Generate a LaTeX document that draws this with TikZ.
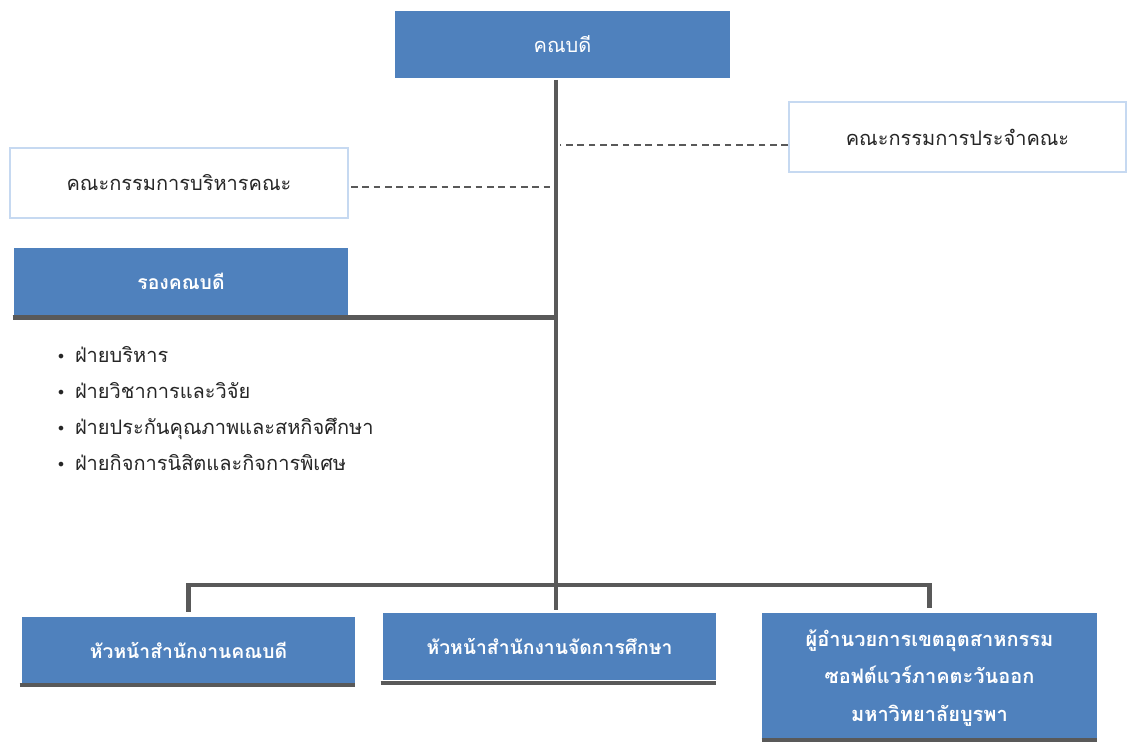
\documentclass[tikz,border=0pt]{standalone}
\usepackage{fontspec}
\usetikzlibrary{calc}
\newfontfamily\thai[Script=Thai]{Loma}
\newfontfamily\dejavu{DejaVu Sans}
\definecolor{boxblue}{HTML}{4F81BD}
\definecolor{linegray}{HTML}{595959}
\definecolor{lightedge}{HTML}{C6D9F1}
\definecolor{txt}{HTML}{262626}
\begin{document}
\begin{tikzpicture}[x=0.75pt,y=-0.75pt,
  bluebox/.style={rectangle, fill=boxblue, draw=none, inner sep=0pt, text=white, align=center, font=\thai\fontsize{15}{27}\selectfont},
  boldbox/.style={bluebox, font=\thai\bfseries\fontsize{14.5}{27}\selectfont},
  whitebox/.style={rectangle, fill=white, draw=lightedge, line width=1.5pt, inner sep=0pt, text=txt, font=\thai\fontsize{15}{18}\selectfont},
  trunk/.style={draw=linegray, line width=3.6pt},
  dashline/.style={draw=linegray, line width=1pt, dash pattern=on 5pt off 3.5pt},
  bar/.style={draw=linegray, line width=3pt}]
\useasboundingbox (0,0) rectangle (1127,742);
\fill[white] (0,0) rectangle (1127,742);

\node[bluebox, minimum width=335*0.75pt, minimum height=67*0.75pt] (dean) at (562.5,44.5) {คณบดี};
\node[whitebox, minimum width=337*0.75pt, minimum height=70*0.75pt] (board) at (957.5,137) {คณะกรรมการประจำคณะ};
\node[whitebox, minimum width=338*0.75pt, minimum height=70*0.75pt] (exec) at (179,183) {คณะกรรมการบริหารคณะ};
\node[boldbox, minimum width=334*0.75pt, minimum height=67*0.75pt] (vice) at (181,281.5) {รองคณบดี};

\node[boldbox, minimum width=333*0.75pt, minimum height=67*0.75pt] (b1) at (188.5,650.5) {หัวหน้าสำนักงานคณบดี};
\node[boldbox, minimum width=333*0.75pt, minimum height=67*0.75pt] (b2) at (549.5,646.5) {หัวหน้าสำนักงานจัดการศึกษา};
\node[boldbox, font=\thai\bfseries\fontsize{15}{28}\selectfont, minimum width=335*0.75pt, minimum height=125*0.75pt, text depth=0pt] (b3) at (929.5,675.5) {\raisebox{-4pt}{}ผู้อำนวยการเขตอุตสาหกรรม\\ซอฟต์แวร์ภาคตะวันออก\\มหาวิทยาลัยบูรพา};

\node[anchor=north west, align=left, text=txt, font=\thai\fontsize{15}{27}\selectfont, inner sep=0pt] (list) at (56,346)
 {{\dejavu\fontsize{12}{27}\selectfont •}\hspace{7pt}ฝ่ายบริหาร\\
  {\dejavu\fontsize{12}{27}\selectfont •}\hspace{7pt}ฝ่ายวิชาการและวิจัย\\
  {\dejavu\fontsize{12}{27}\selectfont •}\hspace{7pt}ฝ่ายประกันคุณภาพและสหกิจศึกษา\\
  {\dejavu\fontsize{12}{27}\selectfont •}\hspace{7pt}ฝ่ายกิจการนิสิตและกิจการพิเศษ};

\coordinate (j) at (556,585);
\coordinate (t) at (556,80);
\draw[trunk] (t) -- (j);
\draw[dashline] ($(board.west)+(0,8)$) -- ($(board.west -| t)+(4,8)$);
\draw[dashline] ($(exec.east)+(2,4)$) -- ($(exec.east -| t)+(0,4)$);
\draw[trunk] ($(vice.south west)+(-1,2)$) -- ($(vice.south west -| t)+(0,2)$);
\draw[trunk] ($(b1.north)+(0,-5)$) -- (b1.north |- j) -- (b3.north |- j) -- ($(b3.north)+(0,-5)$);
\draw[trunk] (j) -- ($(j |- b2.north)+(0,-3)$);
\draw[bar] ($(b1.south west)+(-2,1)$) -- ($(b1.south east)+(0,1)$);
\draw[bar] ($(b2.south west)+(-2,3)$) -- ($(b2.south east)+(0,3)$);
\draw[bar] ($(b3.south west)+(0,2)$) -- ($(b3.south east)+(0,2)$);
\end{tikzpicture}
\end{document}
